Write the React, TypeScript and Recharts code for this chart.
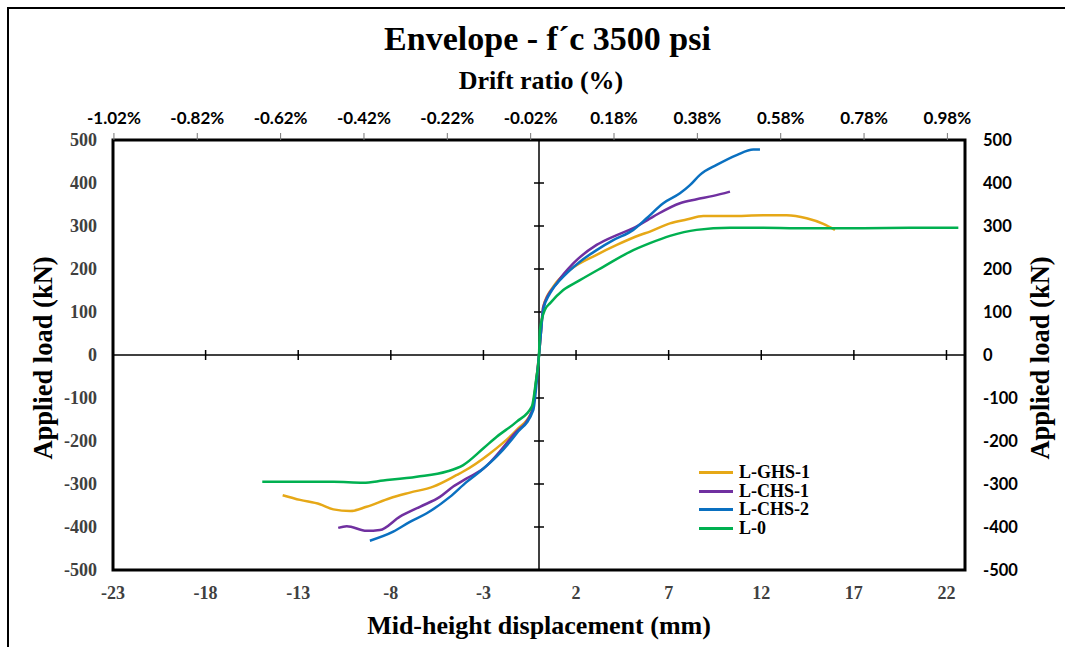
import { LineChart, Line, XAxis, YAxis, ReferenceLine, ReferenceArea } from 'recharts';

// displacement (mm), applied load (kN)
const lGhs1: [number, number][] = [
  [-13.84, -326], [-12.9, -337], [-11.83, -347], [-11.1, -359], [-10.2, -363], [-9.31, -353],
  [-8.05, -333], [-6.97, -320], [-5.71, -306], [-4.44, -279], [-4.09, -271], [-2.65, -229],
  [-1.2, -174], [-0.39, -132], [-0.15, -60], [0, 0], [0.1, 50], [0.23, 112], [0.77, 159],
  [1.67, 198], [3.11, 233], [4.2, 256], [5.45, 279], [5.99, 287], [7.07, 306], [7.97, 315],
  [8.87, 323], [10.31, 323], [12.11, 325], [13.37, 325], [14.45, 318], [15.35, 305], [15.98, 291],
];

const lChs1: [number, number][] = [
  [-10.84, -402], [-10.38, -398], [-9.31, -409], [-8.59, -407], [-7.51, -376], [-6.43, -353],
  [-5.35, -330], [-4.63, -306], [-3.9, -287], [-3.0, -264], [-1.39, -186], [-0.39, -132],
  [-0.15, -60], [0, 0], [0.1, 50], [0.23, 112], [0.96, 167], [1.85, 213], [3.11, 256],
  [4.2, 279], [5.09, 295], [6.17, 322], [7.61, 353], [8.51, 362], [9.41, 370], [10.31, 380],
];

const lChs2: [number, number][] = [
  [-9.13, -432], [-7.87, -411], [-6.97, -388], [-6.06, -368], [-4.81, -330], [-3.9, -295],
  [-3.19, -271], [-2.28, -236], [-1.2, -182], [-0.31, -128], [-0.12, -60], [0, 0], [0.1, 50],
  [0.23, 105], [0.59, 143], [1.31, 182], [2.21, 217], [3.11, 244], [4.01, 267], [5.09, 291],
  [5.81, 318], [6.71, 353], [7.61, 376], [8.15, 395], [8.69, 419], [9.59, 442], [10.67, 465],
  [11.57, 478], [11.93, 478],
];

const l0: [number, number][] = [
  [-14.94, -295], [-12.9, -295], [-11.1, -295], [-9.49, -297], [-8.41, -292], [-6.6, -283],
  [-4.98, -271], [-4.09, -256], [-3.0, -217], [-2.28, -190], [-1.2, -155], [-0.39, -120],
  [-0.15, -55], [0, 0], [0.05, 58], [0.32, 105], [0.59, 120], [1.31, 151], [2.21, 174],
  [3.47, 205], [4.91, 240], [5.99, 260], [7.07, 277], [8.51, 291], [10.31, 296], [12.11, 296],
  [13.91, 295], [17.5, 295], [20.0, 296], [22.64, 296],
];

const displacementTicks = [-23, -18, -13, -8, -3, 2, 7, 12, 17, 22];
const driftLabels = [-1.02, -0.82, -0.62, -0.42, -0.22, -0.02, 0.18, 0.38, 0.58, 0.78, 0.98];
const loadTicks = [-500, -400, -300, -200, -100, 0, 100, 200, 300, 400, 500];

const MM_PER_PERCENT = 22.5;
const driftTicks = driftLabels.map((p) => p * MM_PER_PERCENT);

const series = [
  { name: 'L-GHS-1', color: '#E6A817', data: lGhs1 },
  { name: 'L-CHS-1', color: '#7030A0', data: lChs1 },
  { name: 'L-CHS-2', color: '#0A70C0', data: lChs2 },
  { name: 'L-0', color: '#00B050', data: l0 },
];

const serif = '"Liberation Serif", "Times New Roman", serif';
const sans = 'Lato, "Open Sans", sans-serif';

const titleStyle = { position: 'absolute' as const, textAlign: 'center' as const, fontFamily: serif, fontWeight: 'bold', whiteSpace: 'nowrap' as const };

export default function App() {
  return (
    <div style={{ position: 'absolute', left: 0, top: 0, width: 1065, height: 647, background: '#fff', overflow: 'hidden' }}>
      <div style={{ position: 'absolute', left: 7, top: 7, right: -10, bottom: -10, borderLeft: '2px solid #000', borderTop: '2px solid #000' }} />
      <div style={{ ...titleStyle, left: 0, width: 1095, top: 20, fontSize: 34 }}>Envelope - f´c 3500 psi</div>
      <div style={{ ...titleStyle, left: 0, width: 1082, top: 66, fontSize: 26 }}>Drift ratio (%)</div>
      <div style={{ ...titleStyle, left: 0, width: 1078, top: 611, fontSize: 26 }}>Mid-height displacement (mm)</div>
      <div style={{ ...titleStyle, left: 43, top: 358, transform: 'translate(-50%, -50%) rotate(-90deg)', fontSize: 26.5 }}>
        Applied load (kN)
      </div>
      <div style={{ ...titleStyle, left: 1040, top: 358, transform: 'translate(-50%, -50%) rotate(-90deg)', fontSize: 26.5 }}>
        Applied load (kN)
      </div>
      <LineChart width={1065} height={647} margin={{ top: 110, right: 40, bottom: 47, left: 53 }} style={{ position: 'absolute', left: 0, top: 0 }}>
        <XAxis
          xAxisId="bottom"
          type="number"
          dataKey="d"
          domain={[-23, 23]}
          allowDataOverflow
          ticks={displacementTicks}
          height={30}
          tickSize={0}
          tickMargin={16}
          tickLine={false}
          axisLine={false}
          tick={{ fontFamily: serif, fontWeight: 'bold', fontSize: 18, fill: '#404040' }}
        />
        <XAxis
          xAxisId="top"
          orientation="top"
          type="number"
          dataKey="d"
          domain={[-23, 23]}
          allowDataOverflow
          ticks={driftTicks}
          tickFormatter={(v: number) => `${(v / MM_PER_PERCENT).toFixed(2)}%`}
          height={30}
          tickSize={7}
          tickMargin={9}
          tickLine={{ stroke: '#777', strokeWidth: 1 }}
          axisLine={false}
          tick={{ fontFamily: sans, fontWeight: 'bold', fontSize: 17, fill: '#000' }}
        />
        <YAxis
          yAxisId="left"
          type="number"
          domain={[-500, 500]}
          allowDataOverflow
          ticks={loadTicks}
          width={60}
          tickSize={0}
          tickMargin={16}
          tickLine={false}
          axisLine={false}
          tick={{ fontFamily: serif, fontWeight: 'bold', fontSize: 18, fill: '#404040' }}
        />
        <YAxis
          yAxisId="right"
          orientation="right"
          type="number"
          domain={[-500, 500]}
          allowDataOverflow
          ticks={loadTicks}
          width={60}
          tickSize={0}
          tickMargin={18}
          tickLine={false}
          axisLine={false}
          tick={{ fontFamily: sans, fontWeight: 'bold', fontSize: 16.5, fill: '#000' }}
        />
        <ReferenceArea xAxisId="bottom" yAxisId="left" x1={-23} x2={23} y1={-500} y2={500} fill="none" stroke="#000" strokeWidth={3} fillOpacity={0} />
        <ReferenceLine xAxisId="bottom" yAxisId="left" x={0} stroke="#000" strokeWidth={1.5} />
        <ReferenceLine xAxisId="bottom" yAxisId="left" y={0} stroke="#000" strokeWidth={1.5} />
        {displacementTicks.slice(1).map((t) => (
          <ReferenceLine key={`xt${t}`} xAxisId="bottom" yAxisId="left" segment={[{ x: t, y: -11.6 }, { x: t, y: 11.6 }]} stroke="#000" strokeWidth={1.5} />
        ))}
        {loadTicks.slice(1, -1).filter((t) => t !== 0).map((t) => (
          <ReferenceLine key={`yt${t}`} xAxisId="bottom" yAxisId="left" segment={[{ x: -0.27, y: t }, { x: 0.27, y: t }]} stroke="#000" strokeWidth={1.5} />
        ))}
        {/* invisible carrier so the drift-ratio axis gets drawn */}
        <Line
          xAxisId="top"
          yAxisId="right"
          data={driftTicks.map((d) => ({ d, p: 0 }))}
          dataKey="p"
          stroke="none"
          dot={false}
          activeDot={false}
          legendType="none"
          isAnimationActive={false}
        />
        {series.map((s) => (
          <Line
            key={s.name}
            xAxisId="bottom"
            yAxisId="left"
            name={s.name}
            data={s.data.map(([d, p]) => ({ d, p }))}
            dataKey="p"
            type="monotone"
            stroke={s.color}
            strokeWidth={2.5}
            dot={false}
            activeDot={false}
            isAnimationActive={false}
          />
        ))}
      </LineChart>
      <div style={{ position: 'absolute', left: 699, top: 463, fontFamily: serif, fontWeight: 'bold', fontSize: 18, color: '#000', lineHeight: '18.7px' }}>
        {series.map((s) => (
          <div key={s.name} style={{ display: 'flex', alignItems: 'center' }}>
            <span style={{ display: 'inline-block', width: 34, height: 3, background: s.color, marginRight: 6 }} />
            <span>{s.name}</span>
          </div>
        ))}
      </div>
    </div>
  );
}
